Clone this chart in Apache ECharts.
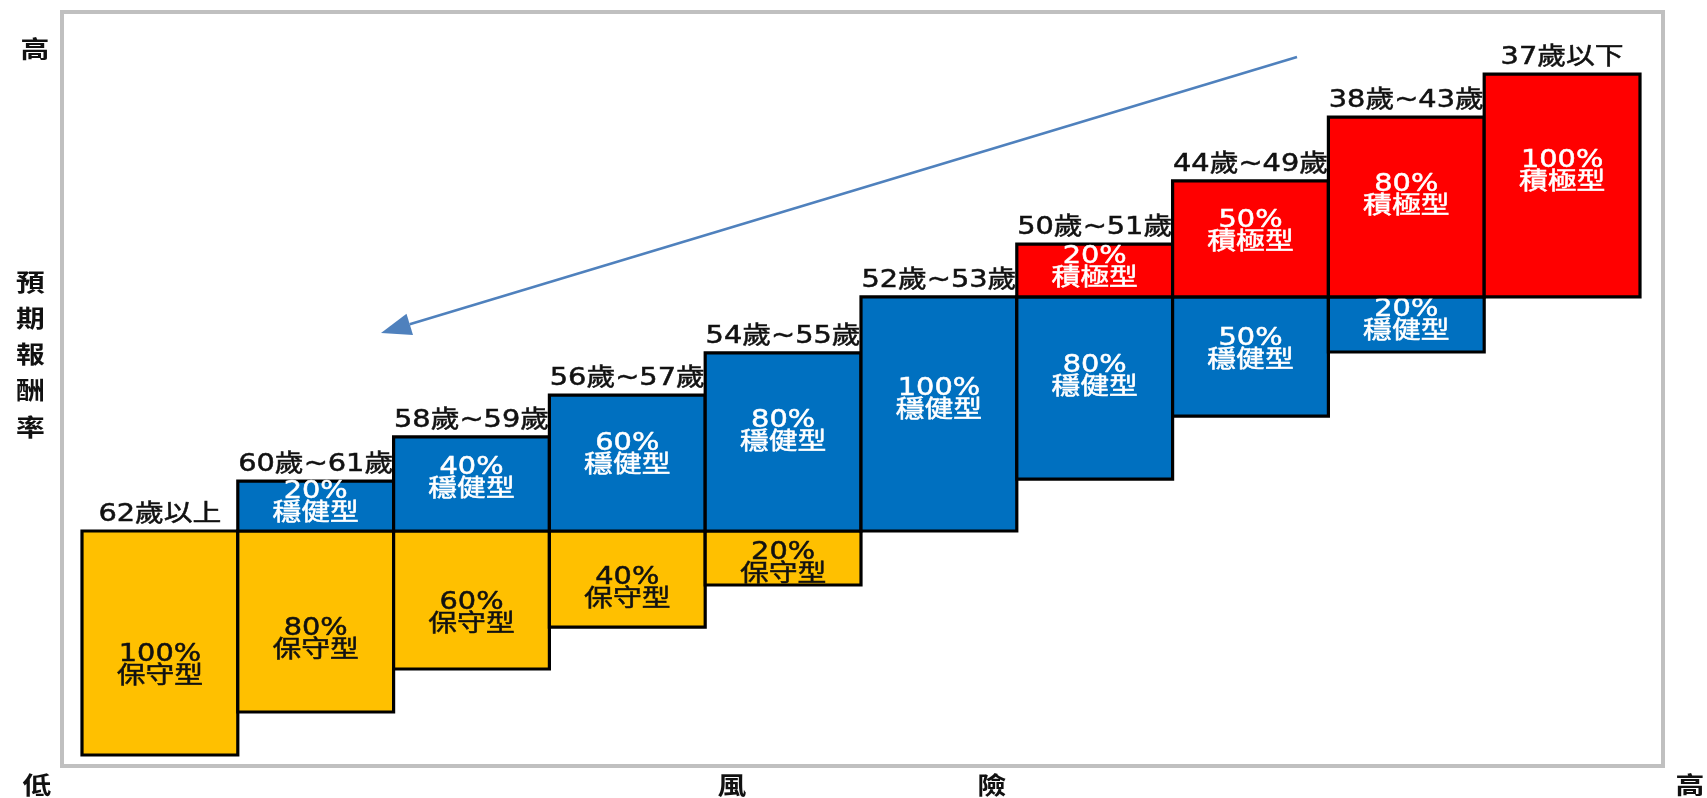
<!DOCTYPE html>
<html>
<head>
<meta charset="utf-8">
<script src="https://cdn.jsdelivr.net/npm/echarts@6/dist/echarts.min.js"></script>
<style>
html,body{margin:0;padding:0;background:#fff;}
#chart{width:1707px;height:798px;}
</style>
</head>
<body>
<div id="chart"></div>
<script>
// ---- data ----
const ageLabels = ['62歲以上','60歲~61歲','58歲~59歲','56歲~57歲','54歲~55歲','52歲~53歲','50歲~51歲','44歲~49歲','38歲~43歲','37歲以下'];

// 保守型 (conservative) segments
const consCols = [0, 1, 2, 3, 4];
const consLow  = [-100, -80.8, -61.6, -42.9, -24.1];
const consHigh = [0, 0, 0, 0, 0];
const consPct  = ['100%', '80%', '60%', '40%', '20%'];

// 穩健型 (balanced) segments
const balCols = [1, 2, 3, 4, 5, 6, 7, 8];
const balLow  = [0, 0, 0, 0, 0, 23.2, 51.3, 79.9];
const balHigh = [22.3, 42.0, 60.7, 79.5, 104.5, 104.5, 104.5, 104.5];
const balPct  = ['20%', '40%', '60%', '80%', '100%', '80%', '50%', '20%'];

// 積極型 (aggressive) segments
const aggCols = [6, 7, 8, 9];
const aggLow  = [104.5, 104.5, 104.5, 104.5];
const aggHigh = [128.1, 156.3, 184.8, 204.0];
const aggPct  = ['20%', '50%', '80%', '100%'];

const typeNames = ['保守型', '穩健型', '積極型'];

// ---- build ----
const FONT = "'DejaVu Sans','Noto Sans CJK TC',sans-serif";
function makeData(cols, low, high) {
  return cols.map((c, i) => [c, low[i], high[i]]);
}
function segSeries(name, cols, low, high, pct, color, textColor, frac) {
  return {
    type: 'custom',
    name: name,
    data: makeData(cols, low, high),
    encode: { x: 0, y: [1, 2] },
    renderItem: function (params, api) {
      const c = api.value(0), lo = api.value(1), hi = api.value(2);
      const p0 = api.coord([c, hi]);
      const p1 = api.coord([c + 1, lo]);
      const w = p1[0] - p0[0], h = p1[1] - p0[1];
      const cy = p1[1] - h * frac;
      return {
        type: 'group',
        children: [
          { type: 'rect', shape: { x: p0[0], y: p0[1], width: w, height: h },
            style: { fill: color, stroke: '#000', lineWidth: 3.2 } },
          { type: 'text', x: p0[0] + w / 2, y: cy, scaleX: 1.2,
            style: { text: pct[params.dataIndex] + '\n' + name, fill: textColor,
                     stroke: textColor, lineWidth: 0.5,
                     font: '24px ' + FONT, align: 'center', verticalAlign: 'middle', lineHeight: 22 } }
        ]
      };
    }
  };
}

// column tops for age labels
const colTop = ageLabels.map((_, c) => {
  let t = -Infinity;
  [[consCols, consHigh], [balCols, balHigh], [aggCols, aggHigh]].forEach(([cols, hs]) => {
    cols.forEach((cc, i) => { if (cc === c) t = Math.max(t, hs[i]); });
  });
  return t;
});

const chart = echarts.init(document.getElementById('chart'));
const AX = "bold 24px 'Noto Sans CJK TC'";
function axisWord(t, x, y) {
  return { type: 'text', x: x, y: y, scaleX: 1.2,
    style: { text: t, font: AX, fill: '#111', align: 'center', verticalAlign: 'middle' } };
}
const option = {
  animation: false,
  grid: { left: 82, right: 67, top: 60.6, bottom: 20.6 },
  xAxis: { type: 'value', min: 0, max: 10, show: false },
  yAxis: { type: 'value', min: -110, max: 210, show: false },
  series: [
    segSeries(typeNames[0], consCols, consLow, consHigh, consPct, '#FFC000', '#111', 0.4),
    segSeries(typeNames[1], balCols, balLow, balHigh, balPct, '#0070C0', '#fff', 0.56),
    segSeries(typeNames[2], aggCols, aggLow, aggHigh, aggPct, '#FF0000', '#fff', 0.56),
    {
      type: 'custom',
      name: 'age',
      data: colTop.map((t, c) => [c, t]),
      encode: { x: 0, y: 1 },
      z: 5,
      renderItem: function (params, api) {
        const c = api.value(0), t = api.value(1);
        const p0 = api.coord([c, t]);
        const p1 = api.coord([c + 1, t]);
        return {
          type: 'text', x: (p0[0] + p1[0]) / 2, y: p0[1] - 4, scaleX: 1.2,
          style: { text: ageLabels[params.dataIndex], fill: '#111', stroke: '#111', lineWidth: 0.5,
                   font: '24px ' + FONT, align: 'center', verticalAlign: 'bottom' }
        };
      }
    }
  ],
  graphic: [
    { type: 'rect', shape: { x: 62, y: 12, width: 1601, height: 754 },
      style: { fill: 'none', stroke: '#c0c0c0', lineWidth: 4 }, z: -10 },
    { type: 'polyline', shape: { points: [[1297, 57], [409.7, 324.3]] },
      style: { stroke: '#4f81bd', lineWidth: 2.5, fill: null }, z: 10 },
    { type: 'polygon', shape: { points: [[381, 333], [413, 335], [406.5, 313.8]] },
      style: { fill: '#4f81bd' }, z: 10 },
    axisWord('高', 35, 49),
    axisWord('預', 30.5, 281.5),
    axisWord('期', 30.5, 317.5),
    axisWord('報', 30.5, 353.5),
    axisWord('酬', 30.5, 390),
    axisWord('率', 30.5, 426.5),
    axisWord('低', 37, 785),
    axisWord('風', 732, 785),
    axisWord('險', 992, 785),
    axisWord('高', 1690, 785)
  ]
};
chart.setOption(option);
</script>
</body>
</html>
